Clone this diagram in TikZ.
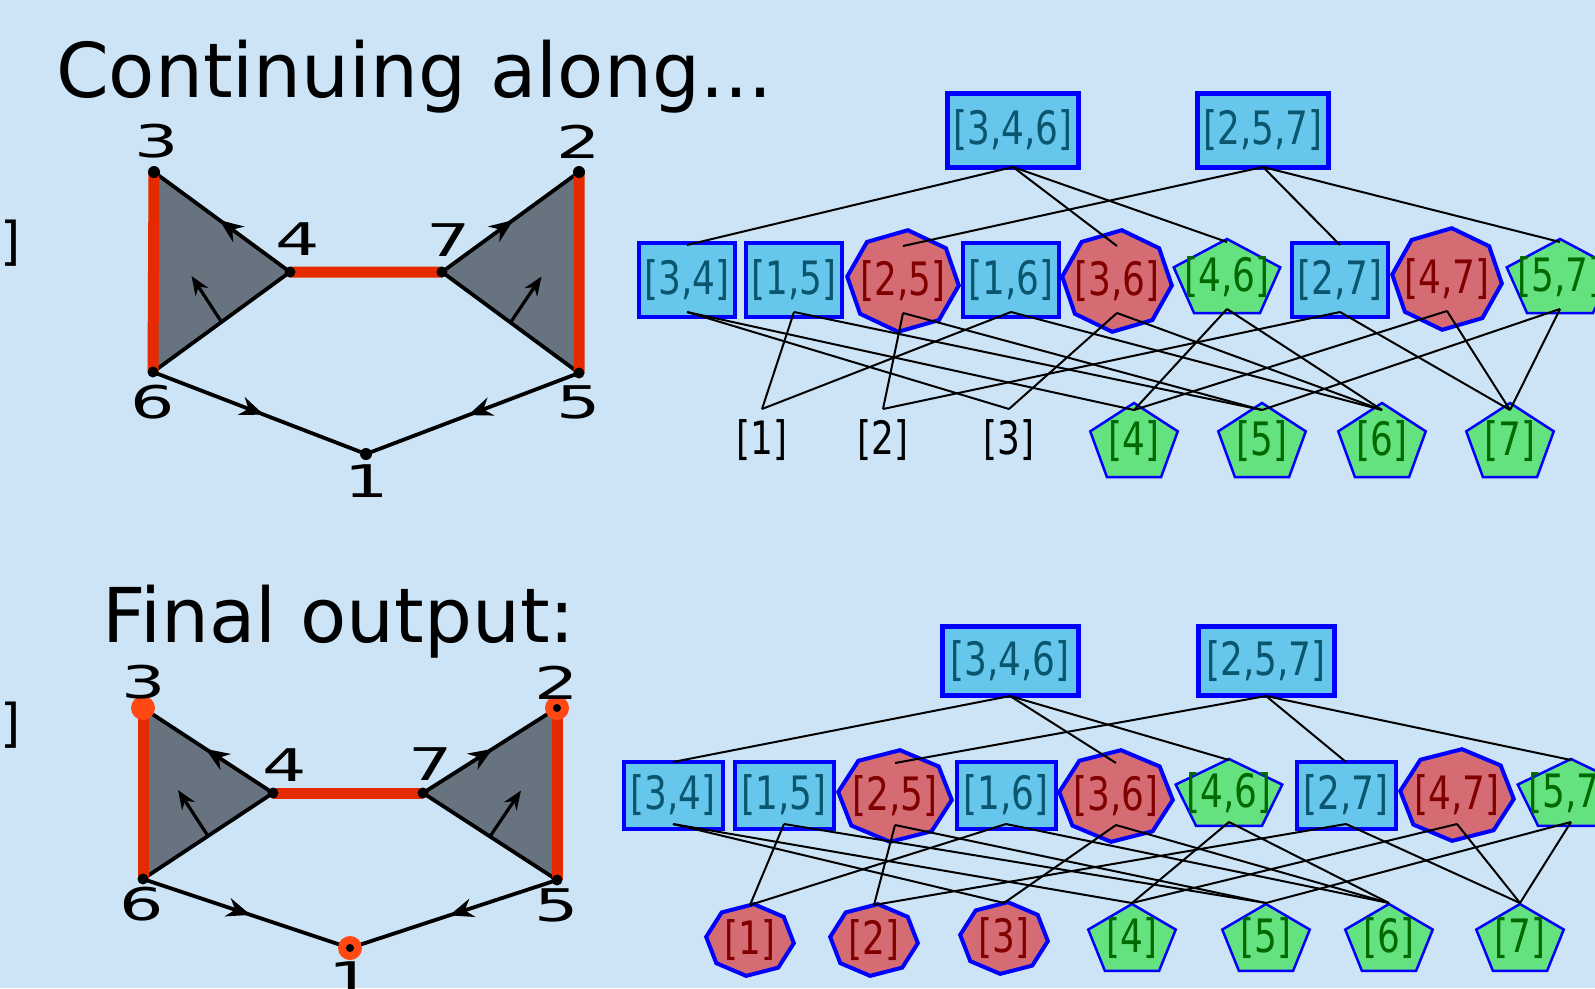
\documentclass[tikz,border=0pt]{standalone}
\usepackage{fontspec}
\setmainfont{DejaVu Sans}
\newfontfamily\facefont{DejaVu Sans}[FakeStretch=0.78]
\newfontfamily\vertfont{DejaVu Sans}[FakeStretch=1.55]
\usetikzlibrary{arrows.meta,decorations.markings,calc}

\definecolor{bgblue}{RGB}{204,228,246}
\definecolor{boxfill}{RGB}{102,198,236}
\definecolor{boxtext}{RGB}{10,86,110}
\definecolor{octfill}{RGB}{213,108,116}
\definecolor{octtext}{RGB}{128,0,0}
\definecolor{pentfill}{RGB}{100,226,128}
\definecolor{penttext}{RGB}{0,105,0}
\definecolor{trigray}{RGB}{103,116,127}
\definecolor{pathred}{RGB}{230,42,0}
\definecolor{critorange}{RGB}{255,72,20}

\tikzset{
  headline/.style={anchor=base west, inner sep=0pt, font=\fontsize{75.6}{80}\selectfont},
  vlabel/.style={inner sep=0pt, font=\vertfont\fontsize{45}{50}\selectfont},
  facetext/.style={inner sep=0pt, font=\facefont\fontsize{46}{50}\selectfont},
  facebox/.style={facetext, draw=blue, line width=4pt, fill=boxfill, text=boxtext,
    minimum width=96pt, minimum height=74pt},
  topbox/.style={facebox, line width=5pt, minimum width=131pt},
  octshape/.style={draw=blue, line width=4pt, fill=octfill},
  octlabel/.style={facetext, text=octtext},
  pentshape/.style={draw=blue, line width=2.5pt, fill=pentfill},
  pentlabel/.style={facetext, text=penttext, yshift=3pt},
  plainlabel/.style={facetext, text=black},
  hasse/.style={line width=2pt},
  blackedge/.style={line width=3.8pt},
  rededge/.style={line width=11pt, draw=pathred},
  midarrow/.style={postaction={decorate}, decoration={markings,
    mark=at position 0.52 with {\arrow{Stealth[length=24pt,width=19pt]}}}},
  facearrow/.style={line width=3.2pt, -{Stealth[length=19pt,width=15pt]}}
}

% octagon / pentagon faces: name, centre, x radius, y radius, text
\newcommand{\octnode}[5]{%
  \filldraw[octshape, shift={(#2)}] (5:#3 and #4)
    \foreach \ang in {50,95,...,320} {-- (\ang:#3 and #4)} -- cycle;
  \node[octlabel] (#1) at (#2) {#5};
}
\newcommand{\pentnode}[5]{%
  \filldraw[pentshape, shift={(#2)}] (270:#3 and #4) -- (342:#3 and #4)
    -- (54:#3 and #4) -- (126:#3 and #4) -- (198:#3 and #4) -- cycle;
  \node[pentlabel] (#1) at (#2) {#5};
}

\begin{document}
\begin{tikzpicture}[x=1pt, y=-1pt]
  \path[use as bounding box, fill=bgblue] (0,0) rectangle (1595,988);

  \node[headline] (head1) at (56,97) {Continuing along...};
  \node[headline] (head2) at (102,642) {Final output:};
  \node[inner sep=0pt, anchor=east, font=\fontsize{52}{56}\selectfont] (cut1) at (21,243) {]};
  \node[inner sep=0pt, anchor=east, font=\fontsize{52}{56}\selectfont] (cut2) at (21,725) {]};

  % Fixed coordinates of the two complexes
  \coordinate (va1) at (366,454);
  \coordinate (va2) at (579,172);
  \coordinate (va3) at (154,172);
  \coordinate (va4) at (290,272);
  \coordinate (va5) at (579,373);
  \coordinate (va6) at (153,372);
  \coordinate (va7) at (442,272);

  \coordinate (vb1) at (350,948);
  \coordinate (vb2) at (557,708);
  \coordinate (vb3) at (143,708);
  \coordinate (vb4) at (273,793);
  \coordinate (vb5) at (557,880);
  \coordinate (vb6) at (143,879);
  \coordinate (vb7) at (423,793);

  \foreach \p in {a,b} {
    \fill[trigray] (v\p3) -- (v\p4) -- (v\p6) -- cycle;
    \fill[trigray] (v\p2) -- (v\p7) -- (v\p5) -- cycle;
    \draw[blackedge] (v\p4) -- (v\p6) (v\p7) -- (v\p5);
    \draw[blackedge, midarrow] (v\p4) -- (v\p3);
    \draw[blackedge, midarrow] (v\p7) -- (v\p2);
    \draw[blackedge, midarrow] (v\p6) -- (v\p1);
    \draw[blackedge, midarrow] (v\p5) -- (v\p1);
    \draw[rededge] (v\p3) -- (v\p6) (v\p4) -- (v\p7) (v\p2) -- (v\p5);
    \draw[facearrow] ($(v\p4)!0.5!(v\p6)$) -- ++(-30,-46);
    \draw[facearrow] ($(v\p7)!0.5!(v\p5)$) -- ++(31,-46);
    \foreach \k in {4,5,6,7}
      \fill (v\p\k) circle (5.5pt);
  }
  \foreach \k in {1,2,3}
    \fill (va\k) circle (6pt);
  % critical vertices
  \fill[critorange] (vb3) circle (12pt);
  \foreach \k in {1,2} {
    \fill[critorange] (vb\k) circle (12pt);
    \fill (vb\k) circle (4pt);
  }

  \node[vlabel] (la1) at (367,481) {1};
  \node[vlabel] (la2) at (579,142) {2};
  \node[vlabel] (la3) at (157,141) {3};
  \node[vlabel] (la4) at (298,239) {4};
  \node[vlabel] (la5) at (579,402) {5};
  \node[vlabel] (la6) at (153,402) {6};
  \node[vlabel] (la7) at (449,240) {7};

  \node[vlabel] (lb1) at (351,978) {1};
  \node[vlabel] (lb2) at (557,683) {2};
  \node[vlabel] (lb3) at (144,682) {3};
  \node[vlabel] (lb4) at (285,765) {4};
  \node[vlabel] (lb5) at (557,905) {5};
  \node[vlabel] (lb6) at (142,904) {6};
  \node[vlabel] (lb7) at (431,764) {7};

  % Hasse diagram, upper
  \node[topbox] (ha346) at (1013,130) {[3,4,6]};
  \node[topbox] (ha257) at (1263,130) {[2,5,7]};
  \node[facebox] (ha34) at (687,280) {[3,4]};
  \node[facebox] (ha15) at (794,280) {[1,5]};
  \octnode{ha25}{903,281}{56}{51}{[2,5]}
  \node[facebox] (ha16) at (1011,280) {[1,6]};
  \octnode{ha36}{1117,281}{55}{51}{[3,6]}
  \pentnode{ha46}{1227,280}{56}{41}{[4,6]}
  \node[facebox] (ha27) at (1340,280) {[2,7]};
  \octnode{ha47}{1447,279}{55}{51}{[4,7]}
  \pentnode{ha57}{1560,280}{56}{41}{[5,7]}
  \node[plainlabel] (ha1) at (762,440) {[1]};
  \node[plainlabel] (ha2) at (883,440) {[2]};
  \node[plainlabel] (ha3) at (1009,440) {[3]};
  \pentnode{ha4}{1134,444}{46}{41}{[4]}
  \pentnode{ha5}{1262,444}{46}{41}{[5]}
  \pentnode{ha6}{1382,444}{46}{41}{[6]}
  \pentnode{ha7}{1510,444}{46}{41}{[7]}

  % Hasse diagram, lower
  \begin{scope}[facebox/.append style={minimum width=99pt, minimum height=67pt},
      topbox/.append style={minimum width=136pt, minimum height=69pt}]
    \node[topbox] (hb346) at (1010,661) {[3,4,6]};
    \node[topbox] (hb257) at (1266,661) {[2,5,7]};
    \node[facebox] (hb34) at (673,795) {[3,4]};
    \node[facebox] (hb15) at (784,795) {[1,5]};
    \octnode{hb25}{895,796}{57}{46}{[2,5]}
    \node[facebox] (hb16) at (1006,795) {[1,6]};
    \octnode{hb36}{1116,796}{57}{46}{[3,6]}
    \pentnode{hb46}{1229,796}{56}{37}{[4,6]}
    \node[facebox] (hb27) at (1346,795) {[2,7]};
    \octnode{hb47}{1457,795}{57}{46}{[4,7]}
    \pentnode{hb57}{1571,796}{56}{37}{[5,7]}
    \octnode{hb1}{750,940}{44}{36}{[1]}
    \octnode{hb2}{874,940}{44}{36}{[2]}
    \octnode{hb3}{1004,938}{44}{36}{[3]}
    \pentnode{hb4}{1132,941}{46}{37}{[4]}
    \pentnode{hb5}{1266,941}{46}{37}{[5]}
    \pentnode{hb6}{1389,941}{46}{37}{[6]}
    \pentnode{hb7}{1520,941}{46}{37}{[7]}
  \end{scope}

  % cover relations
  \foreach \p/\dt/\ut/\db/\ub in {a/37/35/32/31, b/35/33/29/35} {
    \foreach \u/\v in {346/34,346/36,346/46,257/25,257/27,257/57}
      \draw[hasse] ([yshift=-\dt pt]h\p\u.center) -- ([yshift=\ut pt]h\p\v.center);
    \foreach \u/\v in {34/3,34/4,15/1,15/5,25/2,25/5,16/1,16/6,36/3,36/6,
                       46/4,46/6,27/2,27/7,47/4,47/7,57/5,57/7}
      \draw[hasse] ([yshift=-\db pt]h\p\u.center) -- ([yshift=\ub pt]h\p\v.center);
  }
\end{tikzpicture}
\end{document}
